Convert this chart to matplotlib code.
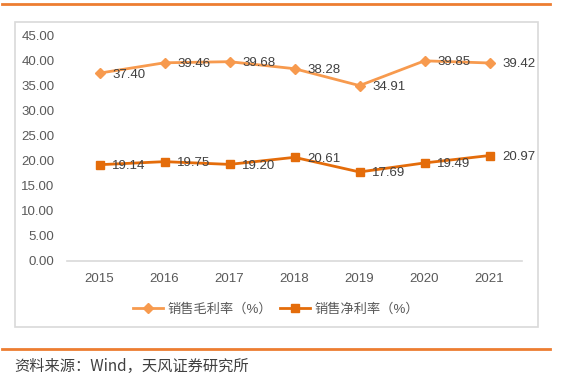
# -*- coding: UTF-8 -*-
# 销售毛利率 / 销售净利率 折线图

import matplotlib.pyplot as plt
from matplotlib.lines import Line2D
from matplotlib.patches import Rectangle

plt.rcParams['font.family'] = ['Liberation Sans', 'Noto Sans CJK SC', 'DejaVu Sans']

# 数据
years = ['2015', '2016', '2017', '2018', '2019', '2020', '2021']
gross_margin = [37.40, 39.46, 39.68, 38.28, 34.91, 39.85, 39.42]
net_margin = [19.14, 19.75, 19.20, 20.61, 17.69, 19.49, 20.97]
y_ticks = [0, 5, 10, 15, 20, 25, 30, 35, 40, 45]

gross_color = '#F79A4E'
net_color = '#E46C0A'
line_color = '#ED7D31'
text_color = '#595959'

fig = plt.figure(figsize=(5.63, 3.85), dpi=100)
W, H = 563, 385

# 外框和橙色分隔线
fig.add_artist(Rectangle((15 / W, 1 - 327 / H), (538 - 15) / W, (327 - 22) / H,
                         transform=fig.transFigure, fill=False,
                         edgecolor='#D9D9D9', linewidth=1.2))
fig.add_artist(Line2D([2 / W, 550 / W], [1 - 4 / H, 1 - 4 / H],
                      transform=fig.transFigure, color=line_color, linewidth=2))
fig.add_artist(Line2D([2 / W, 550 / W], [1 - 349 / H, 1 - 349 / H],
                      transform=fig.transFigure, color=line_color, linewidth=2))

ax = fig.add_axes([67 / W, 1 - 260.7 / H, (522 - 67) / W, (260.7 - 35) / H])
x = list(range(len(years)))

ax.plot(x, gross_margin, color=gross_color, linewidth=2, marker='D',
        markersize=5.5, label='销售毛利率（%）')
ax.plot(x, net_margin, color=net_color, linewidth=2, marker='s',
        markersize=6, label='销售净利率（%）')

for i in x:
    ax.annotate('%.2f' % gross_margin[i], (i, gross_margin[i]), xytext=(9, -1),
                textcoords='offset points', ha='left', va='center',
                fontsize=9.5, color='#404040')
    ax.annotate('%.2f' % net_margin[i], (i, net_margin[i]), xytext=(9, -1),
                textcoords='offset points', ha='left', va='center',
                fontsize=9.5, color='#404040')

ax.set_xlim(-0.5, len(years) - 0.5)
ax.set_ylim(0, 45)
ax.set_xticks(x)
ax.set_xticklabels(years)
ax.set_yticks(y_ticks)
ax.set_yticklabels(['%.2f' % v for v in y_ticks])
ax.tick_params(length=0, labelsize=9.5, labelcolor=text_color)
ax.tick_params(axis='x', pad=9)
ax.tick_params(axis='y', pad=9)
for side in ['top', 'right', 'left']:
    ax.spines[side].set_visible(False)
ax.spines['bottom'].set_color('#D9D9D9')
ax.spines['bottom'].set_linewidth(1.2)

fig.legend(loc='center', bbox_to_anchor=(276 / W, 1 - 309 / H), ncol=2,
           frameon=False, fontsize=9.5, labelcolor=text_color,
           handlelength=2.3, columnspacing=0.6, handletextpad=0.3)

fig.text(14 / W, 1 - 366 / H, '资料来源：Wind，天风证券研究所', fontsize=11,
         color='#404040', ha='left', va='center',
         family=['Noto Sans CJK SC', 'DejaVu Sans'])

plt.savefig('out.png', dpi=100)
